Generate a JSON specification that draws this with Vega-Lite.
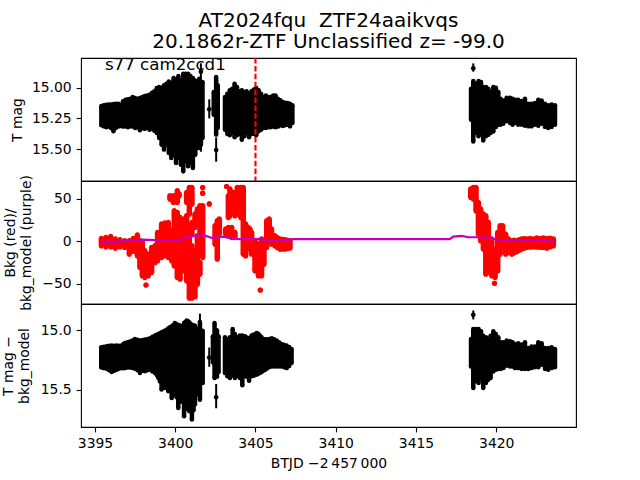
{"$schema":"https://vega.github.io/schema/vega-lite/v6.json","background":"white","padding":{"left":0,"top":11,"right":60,"bottom":10},"bounds":"flush","title":{"text":["AT2024fqu \u00a0ZTF24aaikvqs","20.1862r-ZTF Unclassified z= -99.0"],"fontSize":20,"font":"DejaVu Sans","fontWeight":"normal","anchor":"middle","color":"black","lineHeight":21,"offset":4,"dx":40},"spacing":0,"datasets":{"mag":[{"t":3395.4,"top":15.15,"bot":15.307},{"t":3395.55,"top":15.145,"bot":15.316},{"t":3395.7,"top":15.139,"bot":15.324},{"t":3395.85,"top":15.137,"bot":15.318},{"t":3396.0,"top":15.137,"bot":15.329},{"t":3396.15,"top":15.134,"bot":15.356},{"t":3396.3,"top":15.131,"bot":15.329},{"t":3396.45,"top":15.131,"bot":15.318},{"t":3396.6,"top":15.139,"bot":15.313},{"t":3396.75,"top":15.112,"bot":15.318},{"t":3396.9,"top":15.099,"bot":15.316},{"t":3397.05,"top":15.096,"bot":15.324},{"t":3397.2,"top":15.091,"bot":15.316},{"t":3397.35,"top":15.077,"bot":15.318},{"t":3397.5,"top":15.085,"bot":15.329},{"t":3397.65,"top":15.091,"bot":15.324},{"t":3397.8,"top":15.085,"bot":15.348},{"t":3397.95,"top":15.077,"bot":15.329},{"t":3398.1,"top":15.069,"bot":15.337},{"t":3398.25,"top":15.064,"bot":15.329},{"t":3398.4,"top":15.058,"bot":15.343},{"t":3398.55,"top":15.042,"bot":15.335},{"t":3398.7,"top":15.031,"bot":15.351},{"t":3398.85,"top":15.004,"bot":15.37},{"t":3399.0,"top":14.996,"bot":15.41},{"t":3399.15,"top":15.004,"bot":15.465},{"t":3399.3,"top":14.982,"bot":15.505},{"t":3399.45,"top":14.969,"bot":15.465},{"t":3399.6,"top":14.95,"bot":15.532},{"t":3399.75,"top":14.961,"bot":15.573},{"t":3399.9,"top":14.923,"bot":15.546},{"t":3400.05,"top":14.933,"bot":15.614},{"t":3400.2,"top":14.906,"bot":15.573},{"t":3400.35,"top":14.942,"bot":15.627},{"t":3400.5,"top":14.887,"bot":15.681},{"t":3400.65,"top":14.887,"bot":15.6},{"t":3400.8,"top":14.887,"bot":15.641},{"t":3400.95,"top":14.906,"bot":15.614},{"t":3401.1,"top":14.923,"bot":15.654},{"t":3401.25,"top":14.942,"bot":15.546},{"t":3401.4,"top":14.955,"bot":15.492},{"t":3401.5,"top":14.928,"bot":15.492},{"t":3401.6,"top":14.969,"bot":15.465},{"t":3401.7,"top":14.955,"bot":15.41},{"t":3402.4,"top":15.036,"bot":15.221},{"t":3402.55,"top":14.915,"bot":15.383},{"t":3402.65,"top":14.982,"bot":15.329},{"t":3403.1,"top":15.077,"bot":15.343},{"t":3403.25,"top":15.05,"bot":15.378},{"t":3403.4,"top":15.023,"bot":15.389},{"t":3403.55,"top":15.009,"bot":15.37},{"t":3403.7,"top":14.969,"bot":15.405},{"t":3403.85,"top":14.996,"bot":15.389},{"t":3404.0,"top":15.031,"bot":15.378},{"t":3404.15,"top":15.023,"bot":15.424},{"t":3404.3,"top":15.036,"bot":15.397},{"t":3404.45,"top":15.031,"bot":15.37},{"t":3404.6,"top":15.05,"bot":15.405},{"t":3404.75,"top":15.031,"bot":15.378},{"t":3404.9,"top":15.015,"bot":15.378},{"t":3405.05,"top":15.004,"bot":15.389},{"t":3405.2,"top":15.023,"bot":15.356},{"t":3405.35,"top":15.05,"bot":15.343},{"t":3405.5,"top":15.077,"bot":15.329},{"t":3405.65,"top":15.064,"bot":15.329},{"t":3405.8,"top":15.077,"bot":15.324},{"t":3405.95,"top":15.077,"bot":15.324},{"t":3406.1,"top":15.064,"bot":15.318},{"t":3406.25,"top":15.064,"bot":15.324},{"t":3406.4,"top":15.091,"bot":15.318},{"t":3406.55,"top":15.104,"bot":15.307},{"t":3406.7,"top":15.118,"bot":15.313},{"t":3406.85,"top":15.123,"bot":15.307},{"t":3407.0,"top":15.126,"bot":15.302},{"t":3407.15,"top":15.131,"bot":15.316},{"t":3407.3,"top":15.145,"bot":15.288},{"t":3418.43,"top":15.01,"bot":15.262},{"t":3418.57,"top":14.947,"bot":15.438},{"t":3418.74,"top":14.969,"bot":15.37},{"t":3418.9,"top":14.947,"bot":15.397},{"t":3419.05,"top":14.956,"bot":15.37},{"t":3419.19,"top":14.996,"bot":15.43},{"t":3419.36,"top":14.996,"bot":15.397},{"t":3419.51,"top":15.01,"bot":15.384},{"t":3419.65,"top":15.037,"bot":15.37},{"t":3419.82,"top":14.996,"bot":15.357},{"t":3419.98,"top":15.002,"bot":15.321},{"t":3420.13,"top":15.037,"bot":15.302},{"t":3420.27,"top":15.091,"bot":15.302},{"t":3420.44,"top":15.105,"bot":15.294},{"t":3420.65,"top":15.083,"bot":15.275},{"t":3420.86,"top":15.083,"bot":15.289},{"t":3421.02,"top":15.091,"bot":15.302},{"t":3421.17,"top":15.099,"bot":15.289},{"t":3421.37,"top":15.099,"bot":15.302},{"t":3421.58,"top":15.11,"bot":15.302},{"t":3421.79,"top":15.091,"bot":15.311},{"t":3422.0,"top":15.132,"bot":15.316},{"t":3422.2,"top":15.132,"bot":15.316},{"t":3422.41,"top":15.126,"bot":15.302},{"t":3422.62,"top":15.099,"bot":15.311},{"t":3422.83,"top":15.105,"bot":15.294},{"t":3423.04,"top":15.132,"bot":15.321},{"t":3423.24,"top":15.145,"bot":15.33},{"t":3423.45,"top":15.137,"bot":15.321},{"t":3423.66,"top":15.145,"bot":15.302}],"magErr":[{"t":3401.6,"val":14.871,"lo":14.803,"hi":14.939},{"t":3401.6,"val":15.421,"lo":15.38,"hi":15.522},{"t":3402.12,"val":15.177,"lo":15.096,"hi":15.251},{"t":3402.55,"val":15.508,"lo":15.405,"hi":15.603},{"t":3400.5,"val":15.6,"lo":15.55,"hi":15.698},{"t":3418.57,"val":14.844,"lo":14.804,"hi":14.871}],"det":[{"t":3395.39,"top":15.142,"bot":15.311},{"t":3395.56,"top":15.138,"bot":15.318},{"t":3395.73,"top":15.133,"bot":15.322},{"t":3395.88,"top":15.13,"bot":15.335},{"t":3396.04,"top":15.128,"bot":15.35},{"t":3396.2,"top":15.13,"bot":15.34},{"t":3396.35,"top":15.128,"bot":15.331},{"t":3396.5,"top":15.13,"bot":15.322},{"t":3396.66,"top":15.128,"bot":15.317},{"t":3396.77,"top":15.115,"bot":15.318},{"t":3396.87,"top":15.106,"bot":15.317},{"t":3397.02,"top":15.1,"bot":15.312},{"t":3397.18,"top":15.094,"bot":15.311},{"t":3397.33,"top":15.085,"bot":15.316},{"t":3397.49,"top":15.072,"bot":15.322},{"t":3397.65,"top":15.08,"bot":15.335},{"t":3397.8,"top":15.086,"bot":15.358},{"t":3397.95,"top":15.082,"bot":15.34},{"t":3398.11,"top":15.078,"bot":15.344},{"t":3398.27,"top":15.072,"bot":15.335},{"t":3398.43,"top":15.067,"bot":15.331},{"t":3398.58,"top":15.055,"bot":15.345},{"t":3398.74,"top":15.044,"bot":15.358},{"t":3398.85,"top":15.038,"bot":15.375},{"t":3398.95,"top":15.031,"bot":15.4},{"t":3399.05,"top":15.024,"bot":15.43},{"t":3399.15,"top":15.017,"bot":15.497},{"t":3399.25,"top":15.01,"bot":15.46},{"t":3399.36,"top":15.003,"bot":15.483},{"t":3399.46,"top":14.995,"bot":15.46},{"t":3399.57,"top":14.983,"bot":15.511},{"t":3399.67,"top":14.975,"bot":15.5},{"t":3399.78,"top":14.967,"bot":15.567},{"t":3399.88,"top":14.955,"bot":15.54},{"t":3399.98,"top":14.939,"bot":15.525},{"t":3400.09,"top":14.95,"bot":15.56},{"t":3400.19,"top":14.956,"bot":15.65},{"t":3400.3,"top":14.96,"bot":15.6},{"t":3400.4,"top":14.967,"bot":15.567},{"t":3400.55,"top":14.939,"bot":15.72},{"t":3400.63,"top":14.93,"bot":15.66},{"t":3400.71,"top":14.919,"bot":15.65},{"t":3400.8,"top":14.925,"bot":15.66},{"t":3400.88,"top":14.933,"bot":15.678},{"t":3400.96,"top":14.945,"bot":15.66},{"t":3401.04,"top":14.956,"bot":15.747},{"t":3401.14,"top":14.958,"bot":15.67},{"t":3401.23,"top":14.961,"bot":15.622},{"t":3401.38,"top":14.989,"bot":15.539},{"t":3401.54,"top":14.944,"bot":15.581},{"t":3401.71,"top":15.003,"bot":15.442},{"t":3402.35,"top":15.05,"bot":15.27},{"t":3402.45,"top":14.939,"bot":15.4},{"t":3402.6,"top":15.0,"bot":15.39},{"t":3402.7,"top":15.05,"bot":15.35},{"t":3403.1,"top":15.058,"bot":15.358},{"t":3403.25,"top":15.072,"bot":15.386},{"t":3403.41,"top":15.058,"bot":15.4},{"t":3403.58,"top":14.989,"bot":15.378},{"t":3403.72,"top":15.031,"bot":15.4},{"t":3403.87,"top":15.058,"bot":15.386},{"t":3404.03,"top":15.044,"bot":15.4},{"t":3404.18,"top":15.044,"bot":15.461},{"t":3404.35,"top":15.05,"bot":15.386},{"t":3404.47,"top":15.06,"bot":15.39},{"t":3404.6,"top":15.067,"bot":15.422},{"t":3404.76,"top":15.044,"bot":15.386},{"t":3404.9,"top":15.035,"bot":15.38},{"t":3405.07,"top":15.022,"bot":15.372},{"t":3405.17,"top":15.03,"bot":15.365},{"t":3405.28,"top":15.044,"bot":15.358},{"t":3405.38,"top":15.058,"bot":15.35},{"t":3405.49,"top":15.072,"bot":15.339},{"t":3405.6,"top":15.075,"bot":15.33},{"t":3405.7,"top":15.078,"bot":15.322},{"t":3405.85,"top":15.072,"bot":15.31},{"t":3406.01,"top":15.067,"bot":15.303},{"t":3406.16,"top":15.075,"bot":15.303},{"t":3406.32,"top":15.086,"bot":15.303},{"t":3406.47,"top":15.1,"bot":15.303},{"t":3406.63,"top":15.114,"bot":15.303},{"t":3406.78,"top":15.122,"bot":15.31},{"t":3406.94,"top":15.128,"bot":15.317},{"t":3407.1,"top":15.14,"bot":15.3},{"t":3407.25,"top":15.156,"bot":15.275},{"t":3418.43,"top":15.073,"bot":15.303},{"t":3418.57,"top":14.989,"bot":15.484},{"t":3418.74,"top":14.989,"bot":15.428},{"t":3418.9,"top":14.989,"bot":15.442},{"t":3419.05,"top":15.009,"bot":15.4},{"t":3419.19,"top":15.045,"bot":15.484},{"t":3419.36,"top":15.059,"bot":15.442},{"t":3419.51,"top":15.073,"bot":15.414},{"t":3419.65,"top":15.045,"bot":15.4},{"t":3419.82,"top":15.009,"bot":15.345},{"t":3419.98,"top":15.031,"bot":15.331},{"t":3420.13,"top":15.059,"bot":15.325},{"t":3420.27,"top":15.1,"bot":15.325},{"t":3420.44,"top":15.1,"bot":15.317},{"t":3420.65,"top":15.086,"bot":15.298},{"t":3420.86,"top":15.092,"bot":15.303},{"t":3421.02,"top":15.1,"bot":15.303},{"t":3421.17,"top":15.114,"bot":15.317},{"t":3421.37,"top":15.109,"bot":15.317},{"t":3421.58,"top":15.12,"bot":15.325},{"t":3421.79,"top":15.1,"bot":15.325},{"t":3422.0,"top":15.148,"bot":15.325},{"t":3422.2,"top":15.136,"bot":15.317},{"t":3422.41,"top":15.136,"bot":15.309},{"t":3422.62,"top":15.1,"bot":15.309},{"t":3422.83,"top":15.109,"bot":15.289},{"t":3423.04,"top":15.148,"bot":15.325},{"t":3423.24,"top":15.148,"bot":15.331},{"t":3423.45,"top":15.142,"bot":15.317},{"t":3423.66,"top":15.156,"bot":15.309}],"detErr":[{"t":3401.54,"val":14.931,"lo":14.861,"hi":15.0},{"t":3402.12,"val":15.228,"lo":15.144,"hi":15.306},{"t":3402.55,"val":15.561,"lo":15.45,"hi":15.653},{"t":3418.57,"val":14.87,"lo":14.834,"hi":14.909}],"bkg":[{"t":3395.4,"top":3.75,"bot":-5.3},{"t":3395.68,"top":4.9,"bot":-6.4},{"t":3395.98,"top":6.1,"bot":-6.4},{"t":3396.27,"top":3.0,"bot":-8.0},{"t":3396.56,"top":2.2,"bot":-6.4},{"t":3396.85,"top":1.0,"bot":-7.2},{"t":3397.14,"top":1.0,"bot":-15.1},{"t":3397.39,"top":3.75,"bot":-11.9},{"t":3397.64,"top":7.7,"bot":-17.0},{"t":3397.8,"top":1.0,"bot":-30.7},{"t":3397.95,"top":-0.2,"bot":-40.5},{"t":3398.11,"top":-10.8,"bot":-42.5},{"t":3398.18,"top":-51.1,"bot":-51.1},{"t":3398.32,"top":-14.7,"bot":-40.5},{"t":3398.53,"top":-6.8,"bot":-36.6},{"t":3398.74,"top":-4.9,"bot":-24.9},{"t":3398.9,"top":10.8,"bot":-22.9},{"t":3399.15,"top":20.6,"bot":-19.0},{"t":3399.36,"top":21.8,"bot":-17.0},{"t":3399.57,"top":22.6,"bot":-19.0},{"t":3399.78,"top":12.8,"bot":-22.9},{"t":3399.67,"top":53.9,"bot":49.6},{"t":3399.88,"top":53.9,"bot":45.7},{"t":3400.13,"top":59.8,"bot":45.7},{"t":3400.25,"top":55.9,"bot":53.5},{"t":3399.94,"top":36.3,"bot":-28.8},{"t":3400.13,"top":34.3,"bot":-42.5},{"t":3400.3,"top":28.4,"bot":-44.5},{"t":3400.55,"top":26.5,"bot":-34.7},{"t":3400.71,"top":30.4,"bot":-46.4},{"t":3400.71,"top":57.8,"bot":45.7},{"t":3400.88,"top":18.6,"bot":-66.8},{"t":3400.88,"top":63.7,"bot":32.0},{"t":3401.04,"top":63.7,"bot":43.7},{"t":3401.04,"top":-4.9,"bot":-66.8},{"t":3401.04,"top":22.6,"bot":8.4},{"t":3401.23,"top":32.4,"bot":16.3},{"t":3401.23,"top":-10.8,"bot":-65.2},{"t":3401.38,"top":38.2,"bot":24.1},{"t":3401.38,"top":6.9,"bot":-50.4},{"t":3401.54,"top":42.2,"bot":2.6},{"t":3401.54,"top":-24.5,"bot":-38.6},{"t":3401.71,"top":63.3,"bot":63.3},{"t":3401.71,"top":56.7,"bot":56.7},{"t":3401.71,"top":42.2,"bot":-19.0},{"t":3402.12,"top":44.1,"bot":44.1},{"t":3402.48,"top":18.6,"bot":-3.3},{"t":3402.62,"top":24.5,"bot":-20.9},{"t":3402.75,"top":26.5,"bot":8.4},{"t":3403.14,"top":14.7,"bot":8.4},{"t":3403.31,"top":16.7,"bot":6.5},{"t":3403.52,"top":16.7,"bot":4.5},{"t":3403.72,"top":10.8,"bot":4.5},{"t":3403.2,"top":64.5,"bot":64.5},{"t":3403.31,"top":53.9,"bot":28.0},{"t":3403.41,"top":61.8,"bot":30.0},{"t":3403.58,"top":57.8,"bot":35.9},{"t":3403.72,"top":57.8,"bot":30.0},{"t":3403.87,"top":63.7,"bot":32.0},{"t":3404.08,"top":63.7,"bot":28.0},{"t":3404.24,"top":63.7,"bot":-15.1},{"t":3404.39,"top":20.6,"bot":-17.0},{"t":3404.55,"top":16.7,"bot":0.6},{"t":3404.66,"top":14.7,"bot":-9.2},{"t":3404.76,"top":10.8,"bot":-15.1},{"t":3404.97,"top":1.0,"bot":-34.7},{"t":3405.18,"top":-2.9,"bot":-40.5},{"t":3405.38,"top":3.0,"bot":-40.5},{"t":3405.53,"top":-1.0,"bot":-26.8},{"t":3405.3,"top":-57.0,"bot":-57.0},{"t":3405.7,"top":24.5,"bot":-7.2},{"t":3405.86,"top":26.5,"bot":-1.3},{"t":3406.0,"top":14.7,"bot":-3.3},{"t":3406.21,"top":6.9,"bot":-5.3},{"t":3406.37,"top":4.5,"bot":-7.5},{"t":3406.53,"top":3.0,"bot":-9.2},{"t":3406.68,"top":2.6,"bot":-9.0},{"t":3406.84,"top":2.2,"bot":-9.2},{"t":3407.0,"top":1.5,"bot":-8.4},{"t":3407.15,"top":1.0,"bot":-8.0},{"t":3418.41,"top":61.8,"bot":51.6},{"t":3418.58,"top":63.7,"bot":49.6},{"t":3418.74,"top":63.7,"bot":35.9},{"t":3418.89,"top":46.1,"bot":8.4},{"t":3419.03,"top":38.2,"bot":0.6},{"t":3419.2,"top":32.4,"bot":-9.2},{"t":3419.35,"top":30.4,"bot":-38.6},{"t":3419.51,"top":22.6,"bot":-36.6},{"t":3419.72,"top":3.0,"bot":-40.5},{"t":3419.89,"top":-49.2,"bot":-49.2},{"t":3419.93,"top":-8.8,"bot":-42.5},{"t":3420.09,"top":10.8,"bot":-34.7},{"t":3420.24,"top":18.6,"bot":-15.1},{"t":3420.4,"top":18.6,"bot":-9.2},{"t":3420.59,"top":8.8,"bot":-15.1},{"t":3420.76,"top":3.0,"bot":-13.1},{"t":3420.97,"top":1.0,"bot":-15.1},{"t":3421.12,"top":1.5,"bot":-13.5},{"t":3421.28,"top":1.0,"bot":-12.0},{"t":3421.43,"top":2.2,"bot":-10.5},{"t":3421.59,"top":3.0,"bot":-9.2},{"t":3421.75,"top":3.4,"bot":-8.0},{"t":3421.9,"top":3.0,"bot":-7.2},{"t":3422.11,"top":3.6,"bot":-6.8},{"t":3422.32,"top":3.0,"bot":-6.4},{"t":3422.52,"top":4.2,"bot":-6.8},{"t":3422.73,"top":3.75,"bot":-7.2},{"t":3422.94,"top":4.4,"bot":-7.0},{"t":3423.15,"top":3.75,"bot":-8.0},{"t":3423.36,"top":4.0,"bot":-6.6},{"t":3423.56,"top":3.0,"bot":-5.3}],"model":[{"t":3395.4,"m":-0.2},{"t":3396.15,"m":-0.6},{"t":3396.77,"m":0.2},{"t":3397.39,"m":1.0},{"t":3397.9,"m":2.2},{"t":3398.43,"m":1.8},{"t":3399.05,"m":1.4},{"t":3399.88,"m":1.0},{"t":3400.3,"m":1.4},{"t":3400.71,"m":4.9},{"t":3401.23,"m":6.5},{"t":3401.75,"m":7.7},{"t":3402.27,"m":4.1},{"t":3403.0,"m":5.7},{"t":3403.62,"m":3.0},{"t":3404.24,"m":2.6},{"t":3405.28,"m":2.6},{"t":3405.9,"m":1.4},{"t":3406.94,"m":1.8},{"t":3407.36,"m":2.6},{"t":3417.1,"m":2.6},{"t":3417.33,"m":5.7},{"t":3417.85,"m":6.5},{"t":3418.27,"m":4.9},{"t":3419.1,"m":4.9},{"t":3419.62,"m":3.7},{"t":3420.24,"m":1.4},{"t":3421.48,"m":0.6},{"t":3423.56,"m":1.0}]},"vconcat":[{"width":495,"height":123,"encoding":{"x":{"field":"t","type":"quantitative","scale":{"domain":[3394.13,3424.97],"nice":false,"zero":false},"axis":null}},"layer":[{"data":{"name":"mag"},"mark":{"type":"rule","color":"black","strokeWidth":4.5},"encoding":{"y":{"field":"top","type":"quantitative","scale":{"domain":[15.76,14.76],"nice":false,"zero":false},"axis":{"values":[15,15.25,15.5],"format":".2f","title":"T mag","titleX":-57}},"y2":{"field":"bot"}}},{"data":{"name":"mag"},"mark":{"type":"point","filled":true,"color":"black","opacity":1,"size":20},"encoding":{"y":{"field":"top","type":"quantitative"}}},{"data":{"name":"mag"},"mark":{"type":"point","filled":true,"color":"black","opacity":1,"size":20},"encoding":{"y":{"field":"bot","type":"quantitative"}}},{"data":{"name":"magErr"},"mark":{"type":"rule","color":"black","strokeWidth":2},"encoding":{"y":{"field":"lo","type":"quantitative"},"y2":{"field":"hi"}}},{"data":{"name":"magErr"},"mark":{"type":"point","filled":true,"color":"black","opacity":1,"size":22},"encoding":{"y":{"field":"val","type":"quantitative"}}},{"data":{"values":[{"t":3405}]},"mark":{"type":"rule","color":"red","strokeWidth":2.1,"strokeDash":[5.5,2.4]},"encoding":{}},{"data":{"values":[{"t":3395.62,"val":14.858,"label":"s77 cam2ccd1"}]},"mark":{"type":"text","align":"left","baseline":"alphabetic","font":"DejaVu Sans","fontSize":16.67,"color":"black"},"encoding":{"y":{"field":"val","type":"quantitative"},"text":{"field":"label"}}}]},{"width":495,"height":123,"encoding":{"x":{"field":"t","type":"quantitative","scale":{"domain":[3394.13,3424.97],"nice":false,"zero":false},"axis":null}},"layer":[{"data":{"name":"bkg"},"mark":{"type":"rule","color":"red","strokeWidth":5.5},"encoding":{"y":{"field":"top","type":"quantitative","scale":{"domain":[-73.5,71],"nice":false,"zero":false},"axis":{"values":[-50,0,50],"format":"d","title":["Bkg (red)/","bkg_model (purple)"],"titleX":-64,"titleLineHeight":16.5}},"y2":{"field":"bot"}}},{"data":{"name":"bkg"},"mark":{"type":"point","filled":true,"color":"red","opacity":1,"size":26},"encoding":{"y":{"field":"top","type":"quantitative"}}},{"data":{"name":"bkg"},"mark":{"type":"point","filled":true,"color":"red","opacity":1,"size":26},"encoding":{"y":{"field":"bot","type":"quantitative"}}},{"data":{"name":"model"},"mark":{"type":"line","color":"#bf00bf","strokeWidth":2.2},"encoding":{"y":{"field":"m","type":"quantitative"}}}]},{"width":495,"height":123,"encoding":{"x":{"field":"t","type":"quantitative","scale":{"domain":[3394.13,3424.97],"nice":false,"zero":false},"axis":{"values":[3395,3400,3405,3410,3415,3420],"format":"d","title":"BTJD −2\u2009457\u2009000","titlePadding":6}}},"layer":[{"data":{"name":"det"},"mark":{"type":"rule","color":"black","strokeWidth":4.5},"encoding":{"y":{"field":"top","type":"quantitative","scale":{"domain":[15.81,14.78],"nice":false,"zero":false},"axis":{"values":[15,15.5],"format":".1f","title":["T mag −","bkg_model"],"titleX":-66,"titleLineHeight":16.5}},"y2":{"field":"bot"}}},{"data":{"name":"det"},"mark":{"type":"point","filled":true,"color":"black","opacity":1,"size":20},"encoding":{"y":{"field":"top","type":"quantitative"}}},{"data":{"name":"det"},"mark":{"type":"point","filled":true,"color":"black","opacity":1,"size":20},"encoding":{"y":{"field":"bot","type":"quantitative"}}},{"data":{"name":"detErr"},"mark":{"type":"rule","color":"black","strokeWidth":2},"encoding":{"y":{"field":"lo","type":"quantitative"},"y2":{"field":"hi"}}},{"data":{"name":"detErr"},"mark":{"type":"point","filled":true,"color":"black","opacity":1,"size":22},"encoding":{"y":{"field":"val","type":"quantitative"}}}]}],"config":{"font":"DejaVu Sans","view":{"stroke":"black","strokeWidth":1.1},"axis":{"grid":false,"domain":false,"labelFont":"DejaVu Sans","labelFontSize":13.9,"labelColor":"black","tickColor":"black","tickSize":4.9,"tickWidth":1.1,"labelPadding":4.9,"titleFont":"DejaVu Sans","titleFontSize":13.9,"titleFontWeight":"normal","titleColor":"black","titlePadding":4}}}
